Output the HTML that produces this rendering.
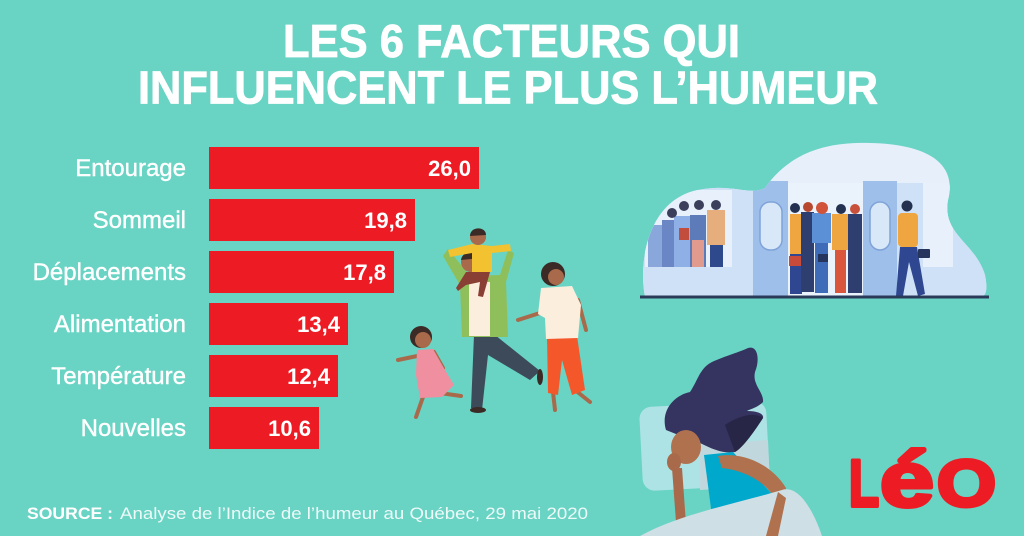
<!DOCTYPE html>
<html><head><meta charset="utf-8"><style>
html,body{margin:0;padding:0;background:#69D3C4;}
svg{display:block;}
</style></head><body>
<svg width="1024" height="536" viewBox="0 0 1024 536" xmlns="http://www.w3.org/2000/svg">
<rect width="1024" height="536" fill="#69D3C4"/>

<!-- Title -->
<g font-family="Liberation Sans, Arial, sans-serif" font-weight="bold" font-size="46" fill="#ffffff" stroke="#ffffff" stroke-width="0.8">
<text x="283" y="57" textLength="457" lengthAdjust="spacingAndGlyphs">LES 6 FACTEURS QUI</text>
<text x="138" y="103.5" textLength="740" lengthAdjust="spacingAndGlyphs">INFLUENCENT LE PLUS L’HUMEUR</text>
</g>

<!-- Bars -->
<g fill="#ED1C24">
<rect x="209" y="147" width="270" height="42"/>
<rect x="209" y="199" width="206" height="42"/>
<rect x="209" y="251" width="185" height="42"/>
<rect x="209" y="303" width="139" height="42"/>
<rect x="209" y="355" width="129" height="42"/>
<rect x="209" y="407" width="110" height="42"/>
</g>
<g font-family="Liberation Sans, Arial, sans-serif" font-size="24" fill="#ffffff" text-anchor="end" stroke="#ffffff" stroke-width="0.4">
<text x="186" y="176">Entourage</text>
<text x="186" y="228">Sommeil</text>
<text x="186" y="280">Déplacements</text>
<text x="186" y="332">Alimentation</text>
<text x="186" y="384">Température</text>
<text x="186" y="436">Nouvelles</text>
</g>
<g font-family="Liberation Sans, Arial, sans-serif" font-size="22" font-weight="bold" fill="#ffffff" text-anchor="end">
<text x="471" y="176">26,0</text>
<text x="407" y="228">19,8</text>
<text x="386" y="280">17,8</text>
<text x="340" y="332">13,4</text>
<text x="330" y="384">12,4</text>
<text x="311" y="436">10,6</text>
</g>

<!-- Source -->
<g font-family="Liberation Sans, Arial, sans-serif" font-size="17">
<text x="27" y="519" font-weight="bold" fill="#ffffff" textLength="86" lengthAdjust="spacingAndGlyphs">SOURCE :</text>
<text x="120" y="519" fill="#ffffff" fill-opacity="0.88" textLength="468" lengthAdjust="spacingAndGlyphs">Analyse de l’Indice de l’humeur au Québec, 29 mai 2020</text>
</g>

<!-- Train illustration -->
<defs>
<clipPath id="blob"><path d="M645,297 C638,262 648,200 698,190 C733,183 748,196 765,188 C792,150 830,142 870,143 C925,144 958,162 948,200 C942,235 975,242 985,275 C988,290 986,297 980,297 Z"/></clipPath>
</defs>
<g clip-path="url(#blob)">
<rect x="630" y="140" width="370" height="160" fill="#e6effa"/>
<rect x="630" y="183" width="370" height="115" fill="#cfe1f6"/>
<rect x="645" y="190" width="87" height="77" fill="#e8f1fb"/>
<rect x="923" y="183" width="30" height="84" fill="#e8f1fb"/>
<rect x="788" y="183" width="75" height="114" fill="#eaf2fb"/>
<rect x="753" y="181" width="35" height="116" fill="#9ebfea"/>
<rect x="863" y="181" width="34" height="116" fill="#9ebfea"/>
<rect x="760" y="202" width="22" height="48" rx="10" fill="#d9e8f8" stroke="#7fa3d8" stroke-width="1.5"/>
<rect x="870" y="202" width="20" height="48" rx="10" fill="#d9e8f8" stroke="#7fa3d8" stroke-width="1.5"/>
<g>
<rect x="648" y="225" width="14" height="42" fill="#8aa7dc"/>
<rect x="662" y="220" width="16" height="47" fill="#6a86c4"/>
<rect x="674" y="216" width="18" height="51" fill="#8fb0e6"/>
<rect x="690" y="215" width="16" height="52" fill="#5d7ab9"/>
<rect x="692" y="240" width="12" height="27" fill="#e09a8e"/>
<rect x="707" y="210" width="18" height="35" fill="#e6ae7c"/>
<rect x="710" y="245" width="13" height="22" fill="#2f4a8c"/>
<circle cx="672" cy="213" r="5" fill="#3b3f5c"/>
<circle cx="684" cy="206" r="5" fill="#3b3f5c"/>
<circle cx="699" cy="205" r="5" fill="#3b3f5c"/>
<circle cx="716" cy="205" r="5" fill="#3b3f5c"/>
<rect x="679" y="228" width="10" height="12" fill="#c24d3c"/>
</g>
<g>
<rect x="790" y="214" width="13" height="40" fill="#f0a640"/>
<rect x="790" y="254" width="12" height="40" fill="#2f4790"/>
<rect x="789" y="256" width="14" height="10" fill="#c74a3a"/>
<rect x="801" y="212" width="13" height="80" fill="#2e3e6f"/>
<rect x="812" y="213" width="19" height="30" fill="#5b8fd6"/>
<rect x="815" y="243" width="13" height="50" fill="#3e6cb8"/>
<rect x="818" y="254" width="10" height="8" fill="#25355e"/>
<rect x="832" y="214" width="16" height="36" fill="#f0a640"/>
<rect x="835" y="250" width="11" height="43" fill="#d9563c"/>
<rect x="848" y="214" width="14" height="79" fill="#2e3e6f"/>
<circle cx="795" cy="208" r="5" fill="#24304f"/>
<circle cx="808" cy="207" r="5" fill="#b8472f"/>
<circle cx="822" cy="208" r="6" fill="#d0533a"/>
<circle cx="841" cy="209" r="5" fill="#24304f"/>
<circle cx="855" cy="209" r="5" fill="#c9503a"/>
</g>
<g>
<circle cx="907" cy="206" r="5.5" fill="#24304f"/>
<rect x="898" y="213" width="20" height="34" rx="4" fill="#f0a640"/>
<path d="M900,247 L917,247 L925,294 L918,296 L909,262 L903,296 L896,296 Z" fill="#2f4790"/>
<rect x="918" y="249" width="12" height="9" rx="1" fill="#25355e"/>
</g>
</g>
<rect x="640" y="295.5" width="349" height="3" fill="#2b3a58"/>

<!-- Family illustration -->
<g>
<path d="M423,397 L416,417" stroke="#a86a4a" stroke-width="4" stroke-linecap="round"/>
<path d="M440,393 L461,396" stroke="#a86a4a" stroke-width="4" stroke-linecap="round"/>
<path d="M422,355 L398,360" stroke="#a86a4a" stroke-width="4" stroke-linecap="round"/>
<path d="M434,352 L443,368" stroke="#a86a4a" stroke-width="4" stroke-linecap="round"/>
<path d="M417,350 L433,349 L445,370 L454,385 L442,397 L420,398 L416,375 Z" fill="#ef8fa0"/>
<circle cx="421" cy="337" r="11" fill="#3b2a25"/>
<circle cx="423" cy="340" r="8" fill="#a86a4a"/>
<path d="M474,335 L471,408 L482,410 L488,355 L530,380 L540,371 L495,335 Z" fill="#3d4a5a"/>
<ellipse cx="478" cy="410" rx="8" ry="3" fill="#3b2a25"/>
<ellipse cx="540" cy="377" rx="3" ry="8" fill="#3b2a25"/>
<path d="M448,249 L443,256 L460,285 L462,337 L508,337 L506,282 L514,253 L508,250 L500,275 L470,276 Z" fill="#8fbf5a"/>
<rect x="469" y="282" width="21" height="54" fill="#fbeedd"/>
<circle cx="471" cy="262" r="10" fill="#a86a4a"/>
<path d="M461,260 C462,250 480,248 481,258 Z" fill="#3b2a25"/>
<path d="M456,288 L466,272 L490,272 L483,297 L478,296 L480,282 L466,285 L458,291 Z" fill="#8a3f35"/>
<rect x="472" y="246" width="20" height="26" fill="#f2c230"/>
<path d="M448,250 L472,244 L492,246 L510,244 L511,251 L492,253 L472,253 L450,257 Z" fill="#f2c230"/>
<circle cx="478" cy="237" r="8" fill="#a86a4a"/>
<path d="M470,236 C470,226 486,226 486,235 Z" fill="#3b2a25"/>
<path d="M553,392 L555,410" stroke="#a86a4a" stroke-width="4" stroke-linecap="round"/>
<path d="M575,390 L590,402" stroke="#a86a4a" stroke-width="4" stroke-linecap="round"/>
<path d="M543,312 L518,320" stroke="#a86a4a" stroke-width="4" stroke-linecap="round"/>
<path d="M578,300 L586,330" stroke="#a86a4a" stroke-width="4" stroke-linecap="round"/>
<path d="M547,336 L577,336 L585,390 L572,395 L562,360 L558,395 L548,393 Z" fill="#f4572a"/>
<path d="M541,288 L572,286 L581,305 L578,338 L546,339 L545,318 L538,314 Z" fill="#fbeedd"/>
<circle cx="553" cy="274" r="12" fill="#3b2a25"/>
<circle cx="556" cy="277" r="8" fill="#a86a4a"/>
</g>

<!-- Sleeping woman -->
<g>
<rect x="641" y="404" width="127" height="84" rx="12" fill="#ade3e4" transform="rotate(-3 704 446)"/>
<path d="M700,445 L768,440 L770,486 L700,490 Z" fill="#c0d8dd"/>
<path d="M666,430 C660,410 675,395 690,392 C698,380 700,368 712,362 C725,356 740,352 748,348 C758,345 760,360 755,372 C752,385 764,392 763,402 C757,408 750,409 747,411 C758,411 764,414 763,418 C752,435 742,448 735,452 C715,455 700,440 686,438 Z" fill="#35335f"/>
<path d="M725,425 C740,415 755,412 763,418 C752,435 742,448 735,452 Z" fill="#272646"/>
<ellipse cx="686" cy="447" rx="15" ry="17" fill="#b0714f"/>
<ellipse cx="674" cy="462" rx="7" ry="9" fill="#a86a4a"/>
<path d="M672,468 L676,522 L686,524 L682,468 Z" fill="#a86a4a"/>
<path d="M704,455 L733,452 L772,494 L748,516 L712,516 Z" fill="#00a8cc"/>
<path d="M718,456 C740,452 770,462 786,488 L778,536 L766,536 L772,494 C760,478 740,470 722,468 Z" fill="#b0714f"/>
<path d="M640,536 C680,514 738,503 782,490 C800,484 815,515 822,536 Z" fill="#cfdfe6"/>
<path d="M778,492 L766,536 L778,536 L786,498 Z" fill="#b0714f"/>
</g>

<!-- Leo logo -->
<g font-family="Liberation Sans, Arial, sans-serif" font-weight="bold" fill="#ED1C24" stroke="#ED1C24" stroke-width="4" stroke-linejoin="round">
<text x="849" y="506" font-size="66" textLength="30" lengthAdjust="spacingAndGlyphs">L</text>
<text x="880" y="506" font-size="78" textLength="54" lengthAdjust="spacingAndGlyphs">é</text>
<text x="937" y="506" font-size="66" textLength="59" lengthAdjust="spacingAndGlyphs">O</text>
</g>
</svg>
</body></html>
